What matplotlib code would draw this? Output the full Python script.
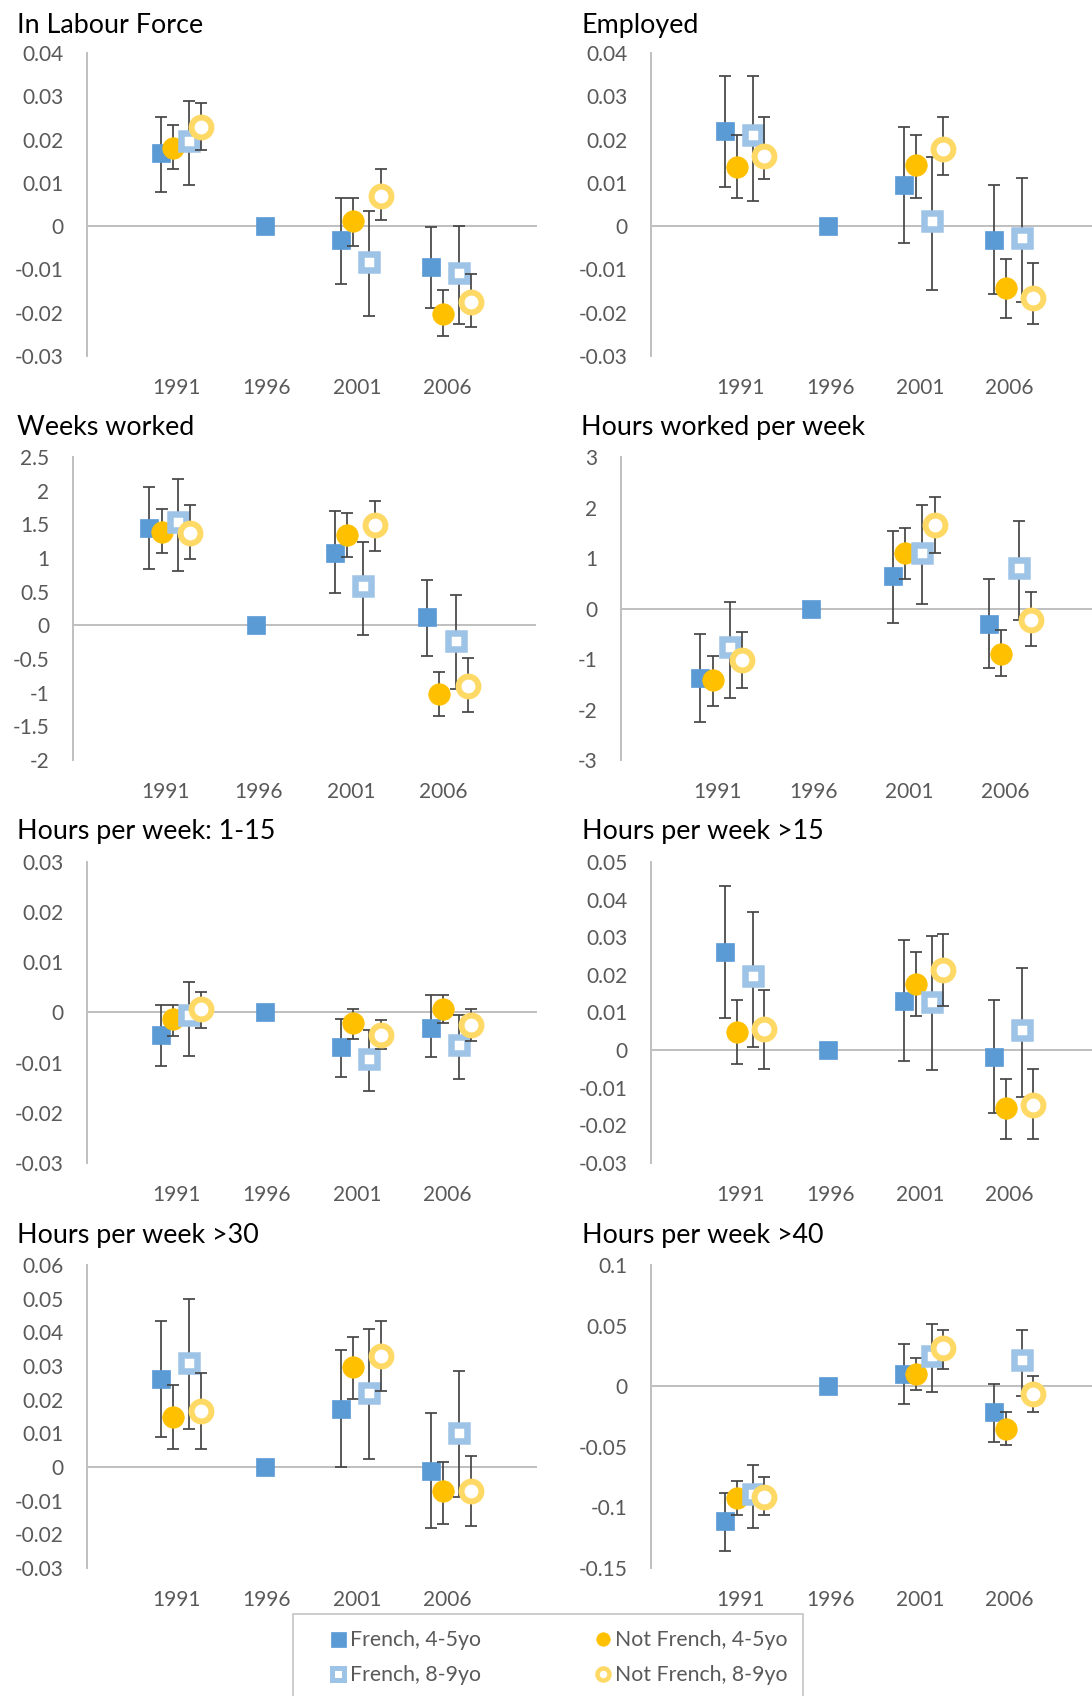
import matplotlib
matplotlib.use("Agg")
import matplotlib.pyplot as plt
from matplotlib.lines import Line2D
from matplotlib.ticker import FuncFormatter
import numpy as np

plt.rcParams['font.family'] = ['Lato', 'DejaVu Sans']

# ---------------------------------------------------------------- data
years = [1991, 2001, 2006]
base_year = 1996
tick_years = [1991, 1996, 2001, 2006]
tick_labels = ["1991", "1996", "2001", "2006"]
series_names = ["French, 4-5yo", "Not French, 4-5yo", "French, 8-9yo", "Not French, 8-9yo"]

titles = ["In Labour Force", "Employed", "Weeks worked", "Hours worked per week",
          "Hours per week: 1-15", "Hours per week >15", "Hours per week >30",
          "Hours per week >40"]

# rows: French 4-5, Not French 4-5, French 8-9, Not French 8-9 ; columns: 1991, 2001, 2006
lf_est = [[0.0168, -0.0032, -0.0095], [0.0181, 0.0011, -0.0203],
          [0.0197, -0.0082, -0.0109], [0.0228, 0.0070, -0.0175]]
lf_lo = [[0.0080, -0.0134, -0.0188], [0.0131, -0.0046, -0.0254],
         [0.0094, -0.0207, -0.0225], [0.0177, 0.0015, -0.0234]]
lf_hi = [[0.0251, 0.0066, -0.0003], [0.0233, 0.0066, -0.0148],
         [0.0289, 0.0034, 0.0000], [0.0284, 0.0131, -0.0111]]

emp_est = [[0.0220, 0.0094, -0.0032], [0.0137, 0.0141, -0.0143],
           [0.0210, 0.0011, -0.0027], [0.0163, 0.0178, -0.0166]]
emp_lo = [[0.0090, -0.0040, -0.0157], [0.0066, 0.0066, -0.0213],
          [0.0057, -0.0147, -0.0175], [0.0108, 0.0118, -0.0225]]
emp_hi = [[0.0348, 0.0228, 0.0094], [0.0210, 0.0210, -0.0077],
          [0.0348, 0.0160, 0.0112], [0.0251, 0.0251, -0.0084]]

wk_est = [[1.45, 1.07, 0.12], [1.39, 1.34, -1.02],
          [1.53, 0.59, -0.24], [1.37, 1.49, -0.90]]
wk_lo = [[0.83, 0.48, -0.45], [1.07, 1.01, -1.34],
         [0.80, -0.15, -0.95], [0.98, 1.10, -1.28]]
wk_hi = [[2.05, 1.70, 0.68], [1.73, 1.67, -0.70],
         [2.17, 1.24, 0.45], [1.78, 1.85, -0.48]]

hrs_est = [[-1.38, 0.64, -0.31], [-1.41, 1.10, -0.91],
           [-0.77, 1.10, 0.80], [-1.02, 1.65, -0.23]]
hrs_lo = [[-2.25, -0.28, -1.18], [-1.93, 0.59, -1.34],
          [-1.78, 0.08, -0.22], [-1.58, 1.10, -0.75]]
hrs_hi = [[-0.51, 1.53, 0.59], [-0.95, 1.59, -0.43],
          [0.12, 2.05, 1.73], [-0.47, 2.20, 0.32]]

h1_est = [[-0.0044, -0.0069, -0.0031], [-0.0013, -0.0021, 0.0007],
          [-0.0005, -0.0092, -0.0065], [0.0006, -0.0045, -0.0025]]
h1_lo = [[-0.0106, -0.0128, -0.0089], [-0.0046, -0.0053, -0.0021],
         [-0.0086, -0.0157, -0.0133], [-0.0031, -0.0072, -0.0056]]
h1_hi = [[0.0015, -0.0013, 0.0035], [0.0015, 0.0006, 0.0035],
         [0.0061, -0.0034, -0.0005], [0.0041, -0.0014, 0.0006]]

h15_est = [[0.0261, 0.0130, -0.0019], [0.0048, 0.0176, -0.0155],
           [0.0197, 0.0127, 0.0053], [0.0057, 0.0212, -0.0145]]
h15_lo = [[0.0085, -0.0028, -0.0167], [-0.0038, 0.0090, -0.0236],
          [0.0009, -0.0054, -0.0124], [-0.0049, 0.0117, -0.0236]]
h15_hi = [[0.0437, 0.0292, 0.0132], [0.0132, 0.0260, -0.0076],
          [0.0367, 0.0303, 0.0217], [0.0159, 0.0308, -0.0049]]

h30_est = [[0.0260, 0.0171, -0.0013], [0.0149, 0.0297, -0.0072],
           [0.0309, 0.0219, 0.0100], [0.0165, 0.0331, -0.0072]]
h30_lo = [[0.0088, 0.0000, -0.0181], [0.0054, 0.0201, -0.0168],
          [0.0112, 0.0024, -0.0089], [0.0054, 0.0225, -0.0174]]
h30_hi = [[0.0433, 0.0349, 0.0161], [0.0243, 0.0386, 0.0016],
          [0.0498, 0.0411, 0.0284], [0.0278, 0.0433, 0.0034]]

h40_est = [[-0.1110, 0.0099, -0.0210], [-0.0925, 0.0102, -0.0351],
           [-0.0892, 0.0246, 0.0218], [-0.0914, 0.0315, -0.0066]]
h40_lo = [[-0.1362, -0.0149, -0.0461], [-0.1064, -0.0033, -0.0483],
          [-0.1174, -0.0050, -0.0083], [-0.1064, 0.0146, -0.0215]]
h40_hi = [[-0.0878, 0.0345, 0.0017], [-0.0782, 0.0235, -0.0215],
          [-0.0649, 0.0511, 0.0464], [-0.0749, 0.0464, 0.0083]]

panel_data = [(lf_est, lf_lo, lf_hi), (emp_est, emp_lo, emp_hi),
              (wk_est, wk_lo, wk_hi), (hrs_est, hrs_lo, hrs_hi),
              (h1_est, h1_lo, h1_hi), (h15_est, h15_lo, h15_hi),
              (h30_est, h30_lo, h30_hi), (h40_est, h40_lo, h40_hi)]

y_ranges = [(-0.03, 0.04, 0.01), (-0.03, 0.04, 0.01), (-2, 2.5, 0.5), (-3, 3, 1),
            (-0.03, 0.03, 0.01), (-0.03, 0.05, 0.01), (-0.03, 0.06, 0.01),
            (-0.15, 0.1, 0.05)]

# ---------------------------------------------------------------- styling
W, H = 1092, 1696
fig = plt.figure(figsize=(W / 100, H / 100), dpi=100)

AXIS_GREY = "#bfbfbf"
TEXT_GREY = "#595959"
ERR_GREY = "#454545"
PX = 0.72  # points per pixel at 100 dpi
TICK_FS = 15
TITLE_FS = 19.4
LEGEND_FS = 15.3

offsets = [-0.87, -0.22, 0.68, 1.31]
styles = [
    dict(marker="s", ms=17.5 * PX, mfc="#5B9BD5", mec="#5B9BD5", mew=0.5),
    dict(marker="o", ms=21.5 * PX, mfc="#FFC000", mec="#FFC000", mew=0.5),
    dict(marker="s", ms=16 * PX, mfc="white", mec="#9DC3E6", mew=6.5 * PX),
    dict(marker="o", ms=19.8 * PX, mfc="white", mec="#FFD966", mew=6 * PX),
]
legend_styles = [
    dict(marker="s", ms=15 * PX, mfc="#5B9BD5", mec="#5B9BD5", mew=0.5),
    dict(marker="o", ms=13.5 * PX, mfc="#FFC000", mec="#FFC000", mew=0.5),
    dict(marker="s", ms=12.5 * PX, mfc="white", mec="#9DC3E6", mew=5 * PX),
    dict(marker="o", ms=12 * PX, mfc="white", mec="#FFD966", mew=4.5 * PX),
]

# axes boxes in pixels: left, top, right, bottom ; right x-limit per panel
boxes = [(87, 53, 537, 356), (651, 53, 1092, 356),
         (73, 457, 536, 760), (621, 457, 1092, 760),
         (87, 862, 537, 1163), (651, 862, 1092, 1163),
         (87, 1265, 537, 1568), (651, 1265, 1092, 1568)]
x_right = [2011, 2010.6, 2011, 2010.5, 2011, 2010.6, 2011, 2010.6]
title_pos = [(17, 33), (582, 33), (17, 435), (581, 435),
             (17, 839), (582, 839), (17, 1243), (582, 1243)]


def fmt(v, _pos):
    if abs(v) < 1e-12:
        return "0"
    return f"{v:g}".replace("\u2212", "-")


for i in range(8):
    l, t, r, b = boxes[i]
    ax = fig.add_axes([l / W, 1 - b / H, (r - l) / W, (b - t) / H])
    ax.set_xlim(1986, x_right[i])
    ymin, ymax, step = y_ranges[i]
    ax.set_ylim(ymin, ymax)
    ticks = np.round(np.arange(ymin, ymax + step / 2, step), 4)
    ax.set_yticks(ticks)
    ax.yaxis.set_major_formatter(FuncFormatter(fmt))
    ax.set_xticks(tick_years)
    ax.set_xticklabels(tick_labels)
    ax.tick_params(axis="both", length=0, labelsize=TICK_FS, colors=TEXT_GREY)
    ax.tick_params(axis="y", pad=17)
    ax.tick_params(axis="x", pad=16)
    for side in ("top", "right", "bottom"):
        ax.spines[side].set_visible(False)
    ax.spines["left"].set_color(AXIS_GREY)
    ax.spines["left"].set_linewidth(1.4)
    ax.axhline(0, color=AXIS_GREY, lw=1.4, zorder=1)
    ax.patch.set_alpha(0)

    est, lo, hi = panel_data[i]
    for s in range(4):
        x = np.array(years) + offsets[s]
        e = np.array(est[s])
        err = [e - np.array(lo[s]), np.array(hi[s]) - e]
        ax.errorbar(x, e, yerr=err, fmt="none", ecolor=ERR_GREY, elinewidth=1.25,
                    capsize=4.2, capthick=1.25, zorder=2 + 2 * s)
        ax.plot(x, e, linestyle="none", zorder=3 + 2 * s, **styles[s])
    # reference year: all groups normalised to zero
    ax.plot([base_year - 0.1], [0], linestyle="none", zorder=3, **styles[0])

    tx, ty = title_pos[i]
    fig.text(tx / W, 1 - ty / H, titles[i], fontsize=TITLE_FS, color="black",
             ha="left", va="baseline")

handles = [Line2D([], [], linestyle="none", **legend_styles[k]) for k in (0, 2, 1, 3)]
labels = [series_names[k] for k in (0, 2, 1, 3)]
leg = fig.legend(handles, labels, ncol=2, loc="upper left",
                 bbox_to_anchor=(292.7 / W, 1 - 1614 / H), frameon=True,
                 fancybox=False, edgecolor=AXIS_GREY, fontsize=LEGEND_FS,
                 labelcolor=TEXT_GREY, handlelength=2.71, handletextpad=-0.78,
                 columnspacing=4.37, borderpad=0.76, labelspacing=0.72,
                 borderaxespad=0)
leg.get_frame().set_linewidth(1.4)

fig.savefig("out.png", dpi=100)
